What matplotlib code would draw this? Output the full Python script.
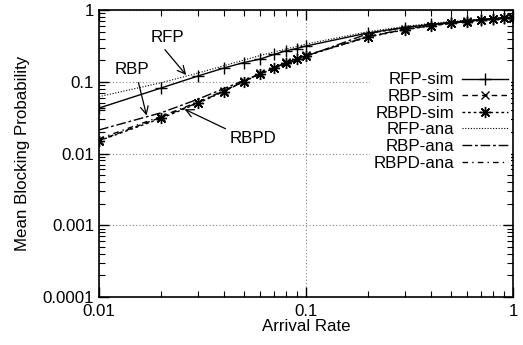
import matplotlib
matplotlib.use('Agg')
import matplotlib.pyplot as plt
from matplotlib.ticker import FuncFormatter, LogLocator, NullFormatter

plt.rcParams['font.family'] = ['Liberation Sans', 'DejaVu Sans']

rates = [0.01, 0.02, 0.03, 0.04, 0.05, 0.06, 0.07, 0.08, 0.09, 0.1,
         0.2, 0.3, 0.4, 0.5, 0.6, 0.7, 0.8, 0.9, 1.0]

rfp_sim = [0.043, 0.082, 0.12, 0.155, 0.185, 0.207, 0.24, 0.27, 0.29, 0.315,
           0.48, 0.57, 0.63, 0.67, 0.71, 0.735, 0.755, 0.775, 0.795]
rbp_sim = [0.0152, 0.032, 0.051, 0.074, 0.101, 0.131, 0.155, 0.186, 0.206, 0.233,
           0.425, 0.535, 0.605, 0.652, 0.692, 0.722, 0.748, 0.77, 0.788]
rbpd_sim = [0.015, 0.031, 0.05, 0.073, 0.10, 0.13, 0.154, 0.185, 0.205, 0.231,
            0.42, 0.53, 0.60, 0.65, 0.69, 0.72, 0.745, 0.768, 0.785]
rfp_ana = [0.062, 0.097, 0.132, 0.167, 0.20, 0.232, 0.26, 0.286, 0.31, 0.335,
           0.50, 0.59, 0.65, 0.69, 0.72, 0.745, 0.765, 0.78, 0.80]
rbp_ana = [0.0213, 0.037, 0.057, 0.080, 0.104, 0.128, 0.152, 0.176, 0.20, 0.226,
           0.47, 0.57, 0.63, 0.67, 0.71, 0.735, 0.755, 0.775, 0.795]
rbpd_ana = [0.016, 0.033, 0.052, 0.075, 0.10, 0.128, 0.153, 0.18, 0.205, 0.23,
            0.43, 0.54, 0.61, 0.655, 0.695, 0.725, 0.75, 0.77, 0.79]

fs = 12.2
W, H = 523, 345

fig = plt.figure(figsize=(W / 100, H / 100), dpi=100)
ax = fig.add_axes([99 / W, 1 - 297 / H, 414 / W, 287 / H])

star = (8, 2, 0)
ax.plot(rates, rfp_sim, color='k', lw=1, marker='+', ms=8, mew=1, label='RFP-sim')
ax.plot(rates, rbp_sim, color='k', lw=1, dashes=(4, 3), marker='x', ms=6, mew=1, label='RBP-sim')
ax.plot(rates, rbpd_sim, color='k', lw=1, dashes=(2, 2), marker=star, ms=8, mew=1, label='RBPD-sim')
ax.plot(rates, rfp_ana, color='k', lw=0.8, dashes=(1, 1.5), label='RFP-ana')
ax.plot(rates, rbp_ana, color='k', lw=1, dashes=(7, 2, 2, 2), label='RBP-ana')
ax.plot(rates, rbpd_ana, color='k', lw=1, dashes=(4, 3, 1, 3), label='RBPD-ana')

ax.set_xscale('log')
ax.set_yscale('log')
ax.set_xlim(0.01, 1)
ax.set_ylim(0.0001, 1)

fmt = FuncFormatter(lambda v, p: '%g' % v)
ax.xaxis.set_major_formatter(fmt)
ax.yaxis.set_major_formatter(fmt)
ax.xaxis.set_minor_locator(LogLocator(base=10, subs=range(2, 10)))
ax.yaxis.set_minor_locator(LogLocator(base=10, subs=range(2, 10)))
ax.xaxis.set_minor_formatter(NullFormatter())
ax.yaxis.set_minor_formatter(NullFormatter())
ax.tick_params(which='both', direction='in', top=True, right=True, labelsize=fs, colors='k')
ax.tick_params(which='major', length=7, width=1)
ax.tick_params(which='minor', length=4, width=0.8)
ax.tick_params(axis='x', pad=5)
for s in ax.spines.values():
    s.set_linewidth(1.2)

ax.grid(True, which='major', color='#888888', linestyle=(0, (1, 2)), lw=0.8)

ax.set_xlabel('Arrival Rate', fontsize=fs, labelpad=0)
ax.set_ylabel('Mean Blocking Probability', fontsize=fs, labelpad=9)


def make_legend(y_anchor, spacing):
    leg = ax.legend(loc='upper right', bbox_to_anchor=(1.0, y_anchor), markerfirst=False,
                    frameon=True, fancybox=False, edgecolor='none', facecolor='white',
                    framealpha=1, fontsize=fs, handlelength=2.7, handletextpad=0.45,
                    labelspacing=spacing, borderpad=0.2, borderaxespad=0.1)
    for t in leg.get_texts():
        t.set_ha('right')
    leg.set_zorder(5)
    return leg


def row_centres(leg):
    fig.canvas.draw()
    ys = []
    for t in leg.get_texts():
        bb = t.get_window_extent()
        ys.append(H - (bb.y0 + bb.y1) / 2)
    return ys

# legend rows in the reference sit at y=80 (first) and y=163 (last) px
y_anchor, spacing = 0.8, 0.08
leg = make_legend(y_anchor, spacing)
ys = row_centres(leg)
step = (ys[-1] - ys[0]) / 5
spacing += (83 / 5 - step) / (fs * 100 / 72)
leg = make_legend(y_anchor, spacing)
ys = row_centres(leg)
y_anchor -= (80 - ys[0]) / 287
leg = make_legend(y_anchor, spacing)

# annotations
ax.text(0.0213, 0.41, 'RFP', fontsize=fs, ha='center', va='center')
ax.annotate('', xy=(0.0269, 0.116), xytext=(0.0204, 0.30),
            arrowprops=dict(arrowstyle='->', lw=0.9, color='k', mutation_scale=14))
ax.text(0.0144, 0.146, 'RBP', fontsize=fs, ha='center', va='center')
ax.annotate('', xy=(0.0171, 0.031), xytext=(0.0154, 0.106),
            arrowprops=dict(arrowstyle='->', lw=0.9, color='k', mutation_scale=14))
ax.text(0.0554, 0.0164, 'RBPD', fontsize=fs, ha='center', va='center')
ax.annotate('', xy=(0.0252, 0.043), xytext=(0.042, 0.0213),
            arrowprops=dict(arrowstyle='->', lw=0.9, color='k', mutation_scale=14))

fig.savefig('out.png', dpi=100)
